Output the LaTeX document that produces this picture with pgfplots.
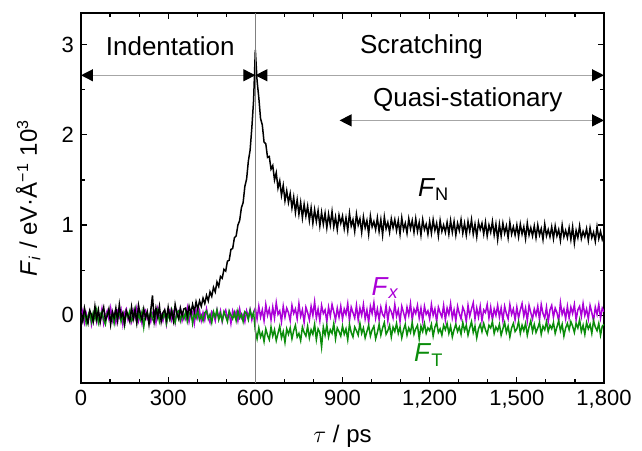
\documentclass[border=0pt]{standalone}
\usepackage{fontspec}
\setmainfont{Liberation Sans}
\usepackage{pgfplots}
\usepackage{pgfplotstable}
\pgfplotsset{compat=1.18}
\usetikzlibrary{arrows.meta}
\definecolor{fxcol}{RGB}{170,0,215}
\definecolor{ftcol}{RGB}{10,140,10}

\pgfplotstableread[row sep=\\]{
y\\
0.03\\ -0.06\\ 0.08\\ -0.02\\ -0.09\\ 0.05\\ 0.01\\ -0.07\\ 0.10\\ -0.04\\
0.06\\ -0.08\\ 0.02\\ 0.09\\ -0.05\\ -0.01\\ 0.07\\ -0.10\\ 0.04\\ -0.03\\
0.08\\ -0.06\\ 0.12\\ -0.02\\ 0.03\\ -0.09\\ 0.05\\ 0.00\\ -0.07\\ 0.09\\
-0.04\\ 0.06\\ -0.08\\ 0.11\\ 0.01\\ -0.05\\ 0.07\\ -0.03\\ 0.04\\ -0.10\\
0.05\\ 0.22\\ -0.06\\ 0.08\\ -0.02\\ 0.10\\ -0.07\\ 0.03\\ 0.06\\ -0.04\\
0.09\\ -0.03\\ 0.05\\ -0.06\\ 0.12\\ 0.02\\ -0.04\\ 0.08\\ 0.00\\ 0.07\\
0.08\\ -0.01\\ 0.10\\ 0.02\\ 0.12\\ 0.04\\ 0.15\\ 0.07\\ 0.16\\ 0.10\\
0.19\\ 0.13\\ 0.22\\ 0.16\\ 0.26\\ 0.21\\ 0.31\\ 0.26\\ 0.37\\ 0.32\\
0.43\\ 0.41\\ 0.51\\ 0.49\\ 0.60\\ 0.61\\ 0.73\\ 0.74\\ 0.86\\ 0.88\\
1.00\\ 1.05\\ 1.19\\ 1.25\\ 1.43\\ 1.51\\ 1.71\\ 1.83\\ 2.08\\ 2.38\\
2.94\\ 2.60\\ 2.41\\ 2.18\\ 2.11\\ 1.92\\ 1.90\\ 1.75\\ 1.76\\ 1.62\\
1.66\\ 1.50\\ 1.58\\ 1.41\\ 1.49\\ 1.33\\ 1.44\\ 1.27\\ 1.38\\ 1.25\\
1.35\\ 1.19\\ 1.31\\ 1.14\\ 1.28\\ 1.12\\ 1.25\\ 1.08\\ 1.23\\ 1.10\\
1.21\\ 1.05\\ 1.19\\ 1.02\\ 1.17\\ 1.04\\ 1.16\\ 0.99\\ 1.14\\ 1.01\\
1.13\\ 0.97\\ 1.12\\ 1.00\\ 1.15\\ 0.98\\ 1.09\\ 0.95\\ 1.11\\ 1.02\\
1.10\\ 0.96\\ 1.08\\ 0.94\\ 1.13\\ 0.99\\ 1.06\\ 0.93\\ 1.12\\ 1.00\\
1.07\\ 0.92\\ 1.09\\ 0.97\\ 1.05\\ 0.90\\ 1.10\\ 0.98\\ 1.04\\ 0.95\\
1.08\\ 0.93\\ 1.06\\ 0.89\\ 1.09\\ 0.96\\ 1.03\\ 0.92\\ 1.07\\ 0.97\\
1.06\\ 0.94\\ 1.05\\ 0.90\\ 1.08\\ 0.95\\ 1.02\\ 0.91\\ 1.07\\ 0.96\\
1.05\\ 0.92\\ 1.07\\ 0.93\\ 1.03\\ 0.89\\ 1.06\\ 0.95\\ 1.01\\ 0.90\\
1.04\\ 0.91\\ 1.06\\ 0.94\\ 1.02\\ 0.88\\ 1.05\\ 0.93\\ 1.00\\ 0.92\\
1.03\\ 0.90\\ 1.05\\ 0.92\\ 1.04\\ 0.89\\ 1.02\\ 0.94\\ 1.06\\ 0.91\\
1.02\\ 0.89\\ 1.04\\ 0.93\\ 1.06\\ 0.90\\ 1.01\\ 0.87\\ 1.03\\ 0.95\\
1.02\\ 0.90\\ 1.03\\ 0.88\\ 1.00\\ 0.92\\ 1.04\\ 0.89\\ 1.01\\ 0.84\\
1.01\\ 0.88\\ 1.02\\ 0.91\\ 0.99\\ 0.86\\ 1.03\\ 0.90\\ 0.98\\ 0.89\\
1.00\\ 0.87\\ 1.01\\ 0.90\\ 0.98\\ 0.85\\ 1.02\\ 0.89\\ 0.97\\ 0.88\\
0.99\\ 0.86\\ 1.00\\ 0.89\\ 0.96\\ 0.84\\ 1.01\\ 0.88\\ 0.95\\ 0.87\\
0.98\\ 0.85\\ 0.99\\ 0.88\\ 0.95\\ 0.83\\ 1.00\\ 0.87\\ 0.94\\ 0.86\\
0.97\\ 0.84\\ 0.98\\ 0.80\\ 0.94\\ 0.86\\ 0.99\\ 0.85\\ 0.93\\ 0.87\\
0.96\\ 0.83\\ 0.97\\ 0.86\\ 0.92\\ 0.82\\ 0.98\\ 0.85\\ 0.93\\ 0.84\\
0.90\\
}\tabFN

\pgfplotstableread[row sep=\\]{
y\\
-0.03\\ 0.05\\ -0.08\\ 0.02\\ -0.06\\ 0.04\\ -0.10\\ 0.01\\ 0.06\\ -0.07\\
0.03\\ -0.05\\ 0.07\\ -0.09\\ 0.00\\ 0.05\\ -0.04\\ 0.08\\ -0.06\\ 0.02\\
-0.08\\ 0.04\\ -0.02\\ 0.06\\ -0.10\\ 0.03\\ 0.07\\ -0.05\\ 0.01\\ -0.07\\
0.05\\ -0.03\\ 0.08\\ -0.06\\ 0.02\\ -0.09\\ 0.04\\ 0.06\\ -0.04\\ 0.00\\
-0.07\\ 0.03\\ 0.05\\ -0.08\\ 0.07\\ -0.02\\ 0.01\\ -0.06\\ 0.04\\ -0.10\\
0.02\\ 0.06\\ -0.05\\ 0.03\\ -0.08\\ 0.05\\ -0.01\\ 0.07\\ -0.06\\ 0.01\\
-0.04\\ 0.08\\ -0.07\\ 0.02\\ 0.04\\ -0.09\\ 0.06\\ -0.03\\ 0.05\\ -0.06\\
0.03\\ -0.05\\ 0.07\\ -0.02\\ -0.08\\ 0.04\\ 0.01\\ -0.06\\ 0.06\\ -0.03\\
0.05\\ -0.07\\ 0.02\\ 0.06\\ -0.04\\ 0.03\\ -0.09\\ 0.05\\ -0.01\\ 0.04\\
-0.06\\ 0.07\\ -0.03\\ 0.01\\ -0.07\\ 0.05\\ -0.02\\ 0.06\\ -0.05\\ 0.03\\
0.08\\ -0.04\\ 0.10\\ -0.02\\ 0.06\\ -0.06\\ 0.12\\ 0.00\\ 0.07\\ -0.05\\
0.09\\ -0.03\\ 0.14\\ 0.01\\ 0.05\\ -0.07\\ 0.10\\ -0.02\\ 0.08\\ 0.03\\
-0.06\\ 0.11\\ 0.02\\ 0.07\\ -0.04\\ 0.13\\ -0.01\\ 0.06\\ -0.08\\ 0.09\\
0.03\\ -0.05\\ 0.10\\ 0.00\\ 0.15\\ -0.03\\ 0.07\\ -0.06\\ 0.11\\ 0.02\\
0.06\\ -0.07\\ 0.09\\ -0.01\\ 0.12\\ 0.04\\ -0.05\\ 0.08\\ -0.02\\ 0.10\\
-0.04\\ 0.07\\ 0.01\\ 0.13\\ -0.06\\ 0.09\\ 0.03\\ -0.03\\ 0.11\\ -0.05\\
0.08\\ 0.00\\ 0.12\\ -0.04\\ 0.06\\ -0.08\\ 0.10\\ 0.02\\ 0.14\\ -0.03\\
0.07\\ -0.05\\ 0.09\\ 0.01\\ -0.02\\ 0.11\\ -0.06\\ 0.08\\ 0.04\\ -0.03\\
0.12\\ -0.01\\ 0.06\\ -0.07\\ 0.10\\ 0.03\\ -0.04\\ 0.09\\ 0.00\\ 0.13\\
-0.05\\ 0.07\\ 0.02\\ 0.11\\ -0.03\\ 0.08\\ -0.06\\ 0.10\\ 0.01\\ 0.05\\
-0.04\\ 0.12\\ 0.00\\ 0.07\\ -0.07\\ 0.09\\ 0.03\\ -0.02\\ 0.11\\ -0.05\\
0.08\\ 0.01\\ 0.13\\ -0.03\\ 0.06\\ -0.06\\ 0.10\\ 0.02\\ -0.04\\ 0.09\\
0.04\\ -0.07\\ 0.11\\ -0.01\\ 0.07\\ 0.14\\ -0.04\\ 0.08\\ -0.02\\ 0.10\\
-0.06\\ 0.06\\ 0.03\\ 0.12\\ -0.03\\ 0.09\\ -0.05\\ 0.07\\ 0.00\\ 0.11\\
-0.02\\ 0.08\\ -0.06\\ 0.10\\ 0.02\\ -0.04\\ 0.12\\ 0.01\\ 0.07\\ -0.05\\
0.09\\ -0.03\\ 0.06\\ 0.13\\ -0.01\\ 0.08\\ -0.06\\ 0.11\\ 0.03\\ -0.04\\
0.07\\ 0.00\\ 0.10\\ -0.05\\ 0.12\\ 0.02\\ -0.03\\ 0.09\\ -0.07\\ 0.06\\
0.11\\ -0.02\\ 0.08\\ 0.03\\ -0.06\\ 0.14\\ 0.01\\ 0.07\\ -0.04\\ 0.10\\
-0.03\\ 0.09\\ 0.02\\ 0.12\\ -0.05\\ 0.06\\ 0.10\\ -0.01\\ 0.13\\ 0.00\\
0.07\\ -0.04\\ 0.11\\ 0.03\\ -0.06\\ 0.09\\ 0.01\\ 0.12\\ -0.03\\ 0.08\\
0.04\\
}\tabFX

\pgfplotstableread[row sep=\\]{
y\\
0.02\\ -0.06\\ 0.04\\ -0.09\\ -0.01\\ 0.05\\ -0.07\\ 0.03\\ -0.04\\ 0.06\\
-0.08\\ 0.01\\ 0.04\\ -0.05\\ -0.10\\ 0.02\\ 0.05\\ -0.06\\ 0.00\\ -0.09\\
0.03\\ -0.04\\ 0.06\\ -0.07\\ 0.01\\ -0.11\\ 0.04\\ -0.02\\ 0.05\\ -0.06\\
-0.03\\ 0.07\\ -0.08\\ 0.02\\ -0.05\\ 0.04\\ -0.13\\ 0.01\\ 0.03\\ -0.06\\
0.05\\ -0.04\\ -0.08\\ 0.02\\ 0.06\\ -0.07\\ 0.00\\ -0.03\\ 0.04\\ -0.09\\
0.01\\ -0.05\\ 0.06\\ -0.02\\ -0.08\\ 0.03\\ 0.05\\ -0.06\\ 0.02\\ -0.04\\
0.04\\ -0.07\\ 0.01\\ 0.05\\ -0.09\\ 0.02\\ -0.03\\ 0.06\\ -0.05\\ 0.00\\
-0.06\\ 0.03\\ 0.05\\ -0.04\\ 0.01\\ -0.08\\ 0.04\\ -0.02\\ 0.06\\ -0.05\\
0.02\\ -0.06\\ 0.04\\ -0.01\\ -0.07\\ 0.05\\ 0.00\\ -0.04\\ 0.03\\ -0.06\\
0.05\\ -0.03\\ 0.01\\ -0.07\\ 0.04\\ 0.02\\ -0.05\\ 0.06\\ -0.02\\ 0.03\\
-0.17\\ -0.26\\ -0.14\\ -0.24\\ -0.19\\ -0.29\\ -0.15\\ -0.22\\ -0.27\\ -0.13\\
-0.23\\ -0.16\\ -0.28\\ -0.20\\ -0.12\\ -0.25\\ -0.18\\ -0.30\\ -0.15\\ -0.21\\
-0.14\\ -0.26\\ -0.17\\ -0.11\\ -0.24\\ -0.20\\ -0.28\\ -0.13\\ -0.19\\ -0.23\\
-0.12\\ -0.25\\ -0.16\\ -0.21\\ -0.10\\ -0.27\\ -0.15\\ -0.19\\ -0.35\\ -0.13\\
-0.22\\ -0.11\\ -0.24\\ -0.16\\ -0.20\\ -0.09\\ -0.26\\ -0.14\\ -0.18\\ -0.23\\
-0.12\\ -0.21\\ -0.15\\ -0.27\\ -0.10\\ -0.19\\ -0.24\\ -0.13\\ -0.17\\ -0.22\\
-0.09\\ -0.20\\ -0.14\\ -0.25\\ -0.18\\ -0.11\\ -0.23\\ -0.16\\ -0.12\\ -0.26\\
-0.19\\ -0.10\\ -0.22\\ -0.14\\ -0.08\\ -0.21\\ -0.17\\ -0.11\\ -0.24\\ -0.13\\
-0.18\\ -0.09\\ -0.20\\ -0.13\\ -0.25\\ -0.16\\ -0.10\\ -0.22\\ -0.14\\ -0.19\\
-0.08\\ -0.21\\ -0.15\\ -0.11\\ -0.26\\ -0.12\\ -0.18\\ -0.09\\ -0.20\\ -0.14\\
-0.17\\ -0.10\\ -0.23\\ -0.13\\ -0.08\\ -0.19\\ -0.15\\ -0.22\\ -0.11\\ -0.16\\
-0.09\\ -0.20\\ -0.12\\ -0.24\\ -0.16\\ -0.10\\ -0.18\\ -0.13\\ -0.21\\ -0.08\\
-0.17\\ -0.11\\ -0.22\\ -0.14\\ -0.07\\ -0.19\\ -0.12\\ -0.25\\ -0.15\\ -0.10\\
-0.18\\ -0.09\\ -0.16\\ -0.21\\ -0.11\\ -0.14\\ -0.07\\ -0.20\\ -0.13\\ -0.17\\
-0.10\\ -0.22\\ -0.15\\ -0.08\\ -0.19\\ -0.12\\ -0.24\\ -0.14\\ -0.09\\ -0.18\\
-0.15\\ -0.07\\ -0.20\\ -0.11\\ -0.17\\ -0.09\\ -0.22\\ -0.13\\ -0.06\\ -0.18\\
-0.10\\ -0.19\\ -0.14\\ -0.08\\ -0.21\\ -0.12\\ -0.16\\ -0.07\\ -0.18\\ -0.11\\
-0.15\\ -0.08\\ -0.20\\ -0.13\\ -0.06\\ -0.17\\ -0.10\\ -0.23\\ -0.14\\ -0.09\\
-0.16\\ -0.07\\ -0.12\\ -0.19\\ -0.09\\ -0.14\\ -0.05\\ -0.18\\ -0.11\\ -0.21\\
-0.08\\ -0.15\\ -0.10\\ -0.20\\ -0.06\\ -0.13\\ -0.17\\ -0.09\\ -0.22\\ -0.12\\
-0.10\\
}\tabFT

\begin{document}
\begin{tikzpicture}
\begin{axis}[
  scale only axis,
  width=261.5pt, height=185pt,
  xmin=0, xmax=1800, ymin=-0.75, ymax=3.35,
  xtick={0,300,...,1800}, minor x tick num=2,
  ytick={0,1,2,3}, minor y tick num=1,
  tick align=inside,
  major tick length=3pt, minor tick length=2pt,
  tick style={black, line width=0.6pt},
  axis line style={line width=0.8pt},
  /pgf/number format/1000 sep={,},
  /pgf/number format/assume math mode=true,
  ticklabel style={font=\fontsize{11}{13}\selectfont},
  label style={font=\fontsize{12}{14}\selectfont},
  xlabel={$\tau$ / ps},
  ylabel={\textit{F}\textsubscript{\textit{i}} / eV·Å\textsuperscript{−1} 10\textsuperscript{3}},
  xlabel style={at={(axis description cs:0.5,-0.145)}, anchor=center},
  ylabel style={at={(axis description cs:-0.101,0.5)}, anchor=center},
  clip=true,
]
\coordinate (sw) at (rel axis cs:0,0);
\addplot[fxcol, line width=0.75pt] table[x expr=\coordindex*6, y index=0] \tabFX;
\addplot[ftcol, line width=0.75pt] table[x expr=\coordindex*6, y index=0] \tabFT;
\addplot[black, line width=0.75pt] table[x expr=\coordindex*6, y index=0] \tabFN;
\draw[gray, line width=0.5pt] (axis cs:600,-0.75) -- (axis cs:600,3.35);
\draw[gray!70, line width=0.6pt, {Triangle[color=black,length=6pt,width=6pt]}-{Triangle[color=black,length=6pt,width=6pt]}] (axis cs:0,2.66) -- (axis cs:600,2.66);
\draw[gray!70, line width=0.6pt, {Triangle[color=black,length=6pt,width=6pt]}-{Triangle[color=black,length=6pt,width=6pt]}] (axis cs:600,2.66) -- (axis cs:1800,2.66);
\draw[gray!70, line width=0.6pt, {Triangle[color=black,length=6pt,width=6pt]}-{Triangle[color=black,length=6pt,width=6pt]}] (axis cs:890,2.16) -- (axis cs:1800,2.16);
\node[font=\fontsize{13}{15}\selectfont] at (axis cs:307,2.98) {Indentation};
\node[font=\fontsize{13}{15}\selectfont] at (axis cs:1172,2.98) {Scratching};
\node[font=\fontsize{13}{15}\selectfont] at (axis cs:1331,2.39) {Quasi-stationary};
\node[font=\fontsize{13}{15}\selectfont] at (axis cs:1214,1.39) {\textit{F}\textsubscript{N}};
\node[font=\fontsize{13}{15}\selectfont, text=fxcol] at (axis cs:1048,0.30) {\textit{F}\textsubscript{\textit{x}}};
\node[font=\fontsize{13}{15}\selectfont, text=ftcol] at (axis cs:1197,-0.44) {\textit{F}\textsubscript{T}};
\end{axis}
\pgfresetboundingbox
\path[use as bounding box] (sw) ++(-40.5pt,-33.5pt) rectangle ++(321pt,225pt);
\end{tikzpicture}
\end{document}
